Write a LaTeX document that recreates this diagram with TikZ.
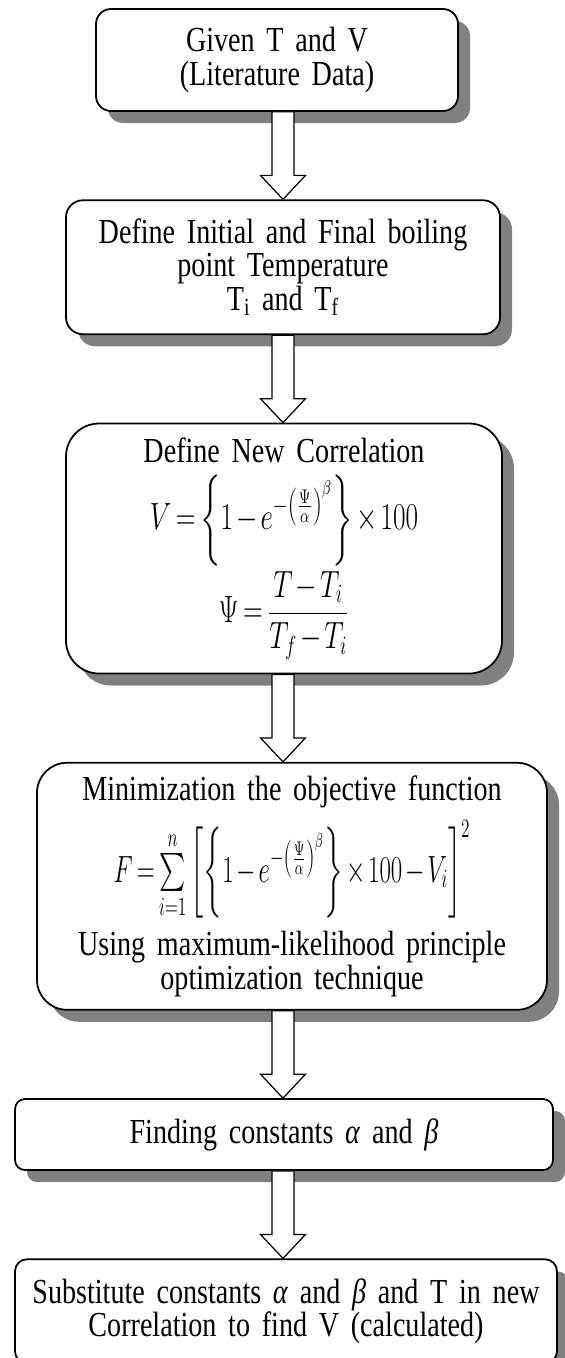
\documentclass[tikz,border=0pt]{standalone}
\usepackage[no-math]{fontspec}
\setmainfont[FakeStretch=0.8]{Liberation Serif}
\usepackage{amsmath,graphicx}
\usetikzlibrary{positioning,calc,shadows}

\tikzset{
  stepbox/.style={draw, line width=1pt, fill=white, align=center, inner sep=0pt,
    font=\fontsize{20}{19}\selectfont,
    drop shadow={shadow xshift=0.24cm, shadow yshift=-0.24cm, fill=black!50, opacity=1}},
  blockarrow/.style={draw, line width=0.7pt, fill=white, line join=miter},
}
\newcommand{\eqbox}[2][0.9]{\scalebox{#1}[1.25]{\fontsize{17.5}{21}\selectfont
  \medmuskip=2mu\thickmuskip=3mu$#2$}}
% fat hollow arrow from the bottom of one box to the top of the next
\newcommand{\flowarrow}[2]{%
  \draw[blockarrow] ($(#1.south -| axis)+(-0.22,0)$) -- ($(#1.south -| axis)+(0.22,0)$)
    -- ($(#2.north -| axis)+(0.22,0.48)$) -- ++(0.23,0) -- (#2.north -| axis)
    -- ++(-0.45,0.48) -- ++(0.23,0) -- cycle;}

\begin{document}
\begin{tikzpicture}[node distance=1.75cm]
    \useasboundingbox (0,0) rectangle (11.3,-27.16);
    \coordinate (axis) at (5.66,0);

    \node[stepbox, minimum width=7.24cm, minimum height=2.04cm, text width=7cm, rounded corners=0.3cm] (given) at (5.54,-1.20)
        {Given T and V\\(Literature Data)};
    \node[stepbox, minimum width=8.68cm, minimum height=2.68cm, text width=8.4cm, rounded corners=0.34cm,
        below=of given, xshift=0.12cm] (boiling)
        {Define Initial and Final boiling\\point Temperature\\T\textsubscript{i} and T\textsubscript{f}};
    \node[stepbox, minimum width=8.72cm, minimum height=5cm, text width=8.4cm, rounded corners=0.66cm,
        below=of boiling, xshift=0.02cm] (corr)
        {Define New Correlation\\[6pt]
         \eqbox{V=\left\{1-e^{-\left(\frac{\Psi}{\alpha}\right)^{\beta}}\right\}\times 100}\\[2pt]
         \eqbox{\Psi=\dfrac{T-T_i}{T_f-T_i}}};
    \node[stepbox, minimum width=10.2cm, minimum height=4.94cm, text width=9.9cm, rounded corners=0.6cm,
        below=of corr, xshift=0.16cm] (objective)
        {Minimization the objective function\\[6pt]
         \eqbox[0.82]{F=\sum\limits_{i=1}^{n}\left[\left\{1-e^{-\left(\frac{\Psi}{\alpha}\right)^{\beta}}\right\}\times 100-V_i\right]^2}\\[6pt]
         Using maximum-likelihood principle\\optimization technique};
    \node[stepbox, minimum width=10.76cm, minimum height=1.42cm, text width=10.4cm, rounded corners=0.2cm,
        below=of objective, xshift=-0.16cm] (constants)
        {Finding constants \textit{α} and \textit{β}};
    \node[stepbox, minimum width=10.84cm, minimum height=2.08cm, text width=10.5cm, rounded corners=0.24cm,
        below=of constants, xshift=0.04cm] (substitute)
        {Substitute constants \textit{α} and \textit{β} and T in new\\Correlation to find V (calculated)};

    \flowarrow{given}{boiling}
    \flowarrow{boiling}{corr}
    \flowarrow{corr}{objective}
    \flowarrow{objective}{constants}
    \flowarrow{constants}{substitute}
\end{tikzpicture}
\end{document}
